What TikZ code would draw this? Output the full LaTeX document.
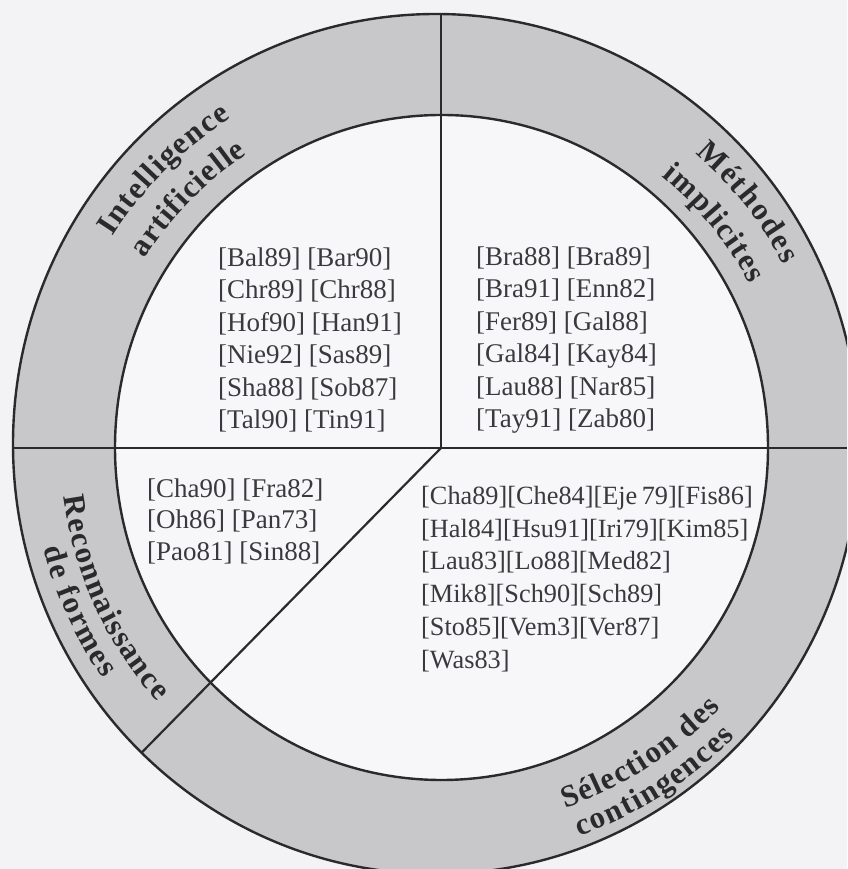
\documentclass[tikz,border=0pt]{standalone}
\usepackage{fontspec}
\setmainfont{Liberation Serif}
\usetikzlibrary{decorations.text}

\definecolor{paper}{RGB}{243,242,244}
\definecolor{disc}{RGB}{247,246,248}
\definecolor{band}{RGB}{200,200,203}
\definecolor{ink}{RGB}{42,42,44}
\definecolor{citeink}{RGB}{58,58,62}

\newcommand{\citefont}{\fontsize{27}{32.4}\selectfont}
\newcommand{\ringfont}{\fontsize{31}{36}\selectfont\bfseries}
% line break that is safe before a line opening with a bracket
\newcommand{\nl}{\\{}}

\tikzset{
  divider/.style={draw=ink, line width=2.2pt},
  rim/.style={draw=ink, line width=2.4pt},
  refs/.style={anchor=west, align=left, inner sep=0pt, text=citeink, font=\citefont},
  ringlabel/.style={decorate, decoration={text along path, text align=fit to path,
      text color=ink, text={|\ringfont|#1}}},
}

\begin{document}
\begin{tikzpicture}[x=1pt,y=1pt]
\useasboundingbox (0,0) rectangle (847,869);
\fill[paper] (0,0) rectangle (847,869);

% centres of the rim, of the inner disc, and the hub of the dividers
\coordinate (O) at (436,425);
\coordinate (I) at (441.5,421.5);
\coordinate (C) at (441,421);
\coordinate (W) at (0,421);
\coordinate (E) at (847,421);
\coordinate (N) at (441,869);
\coordinate (SW) at ([shift={(225.5:620)}]C);

\begin{scope}
  \clip (0,0) rectangle (847,869);
  % grey band and white disc
  \fill[band] (O) ellipse [x radius=423, y radius=430];
  \fill[disc] (I) ellipse [x radius=326.5, y radius=332.5];
  % the three dividers, cut at the rim
  \begin{scope}
    \clip (O) ellipse [x radius=423, y radius=430];
    \draw[divider] (W) -- (E);
    \draw[divider] (C) -- (N);
    \draw[divider] (C) -- (SW);
  \end{scope}
  \draw[rim] (O) ellipse [x radius=423, y radius=430];
  \draw[rim] (I) ellipse [x radius=326.5, y radius=332.5];
\end{scope}

% references of each sector
\node[refs] (ia) at (218,529) {[Bal89] [Bar90]\nl[Chr89] [Chr88]\nl[Hof90] [Han91]\nl[Nie92] [Sas89]\nl[Sha88] [Sob87]\nl[Tal90] [Tin91]};
\node[refs] (mi) at (476,529) {[Bra88] [Bra89]\nl[Bra91] [Enn82]\nl[Fer89] [Gal88]\nl[Gal84] [Kay84]\nl[Lau88] [Nar85]\nl[Tay91] [Zab80]};
\node[refs, font=\fontsize{27}{31.5}\selectfont] (rf) at (147,348) {[Cha90] [Fra82]\nl[Oh86] [Pan73]\nl[Pao81] [Sin88]};
\node[refs, font=\fontsize{26.3}{32.8}\selectfont] (sc) at (421,290) {[Cha89][Che84][Eje\,79][Fis86]\nl[Hal84][Hsu91][Iri79][Kim85]\nl[Lau83][Lo88][Med82]\nl[Mik8][Sch90][Sch89]\nl[Sto85][Vem3][Ver87]\nl[Was83]};

% sector titles written along the band, slightly tracked over their arcs
\begin{scope}[shift={(441,422)}]
  \path[ringlabel={Intelligence}] (147.4:390) arc[start angle=147.4, end angle=122.6, radius=390];
  \path[ringlabel={artificielle}] (147.5:351) arc[start angle=147.5, end angle=123.5, radius=351];
  \path[ringlabel={Méthodes}] (49:388) arc[start angle=49, end angle=28, radius=388];
  \path[ringlabel={implicites}] (50.8:349) arc[start angle=50.8, end angle=27.8, radius=349];
  \path[ringlabel={Reconnaissance}] (187.5:381) arc[start angle=187.5, end angle=221.9, radius=381];
  \path[ringlabel={de formes}] (194.4:410) arc[start angle=194.4, end angle=214.4, radius=410];
  \path[ringlabel={Sélection des}] (-71:382) arc[start angle=-71, end angle=-43, radius=382];
  \path[ringlabel={contingences}] (-70.4:413) arc[start angle=-70.4, end angle=-44.6, radius=413];
\end{scope}
\end{tikzpicture}
\end{document}
